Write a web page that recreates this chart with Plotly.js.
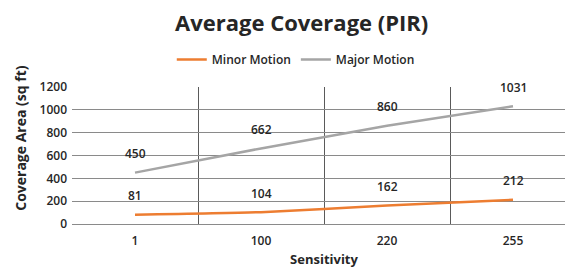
<!DOCTYPE html>
<html>
<head>
<meta charset="utf-8">
<script src="https://cdn.plot.ly/plotly-3.0.1.min.js"></script>
<style>
html,body{margin:0;padding:0;overflow:hidden;background:#fff;width:565px;height:269px;}
#chart{width:578px;height:269px;}
</style>
</head>
<body>
<div id="chart"></div>
<script>
var categories = ["1", "100", "220", "255"];
var minorMotion = [81, 104, 162, 212];
var majorMotion = [450, 662, 860, 1031];
var yTicks = [0, 200, 400, 600, 800, 1000, 1200];

var FONT = "Open Sans, sans-serif";
var TXT = "#262626";

var traces = [
  {x: categories, y: minorMotion, name: "Minor Motion", type: "scatter", mode: "lines",
   line: {color: "#ED7D31", width: 2.5, shape: "spline", smoothing: 0.5}},
  {x: categories, y: majorMotion, name: "Major Motion", type: "scatter", mode: "lines",
   line: {color: "#A5A5A5", width: 2.5}}
];

var annotations = [];
[minorMotion, majorMotion].forEach(function (series) {
  series.forEach(function (v, i) {
    annotations.push({x: i, y: v, xref: "x", yref: "y", text: String(v),
      showarrow: false, yshift: 19, font: {family: FONT, size: 12, color: TXT, weight: 600}});
  });
});
annotations.push({text: "Coverage Area (sq ft)", xref: "paper", yref: "paper", x: -0.101, y: 0.63,
  xanchor: "center", yanchor: "middle", textangle: -90, showarrow: false,
  font: {family: FONT, size: 14, color: TXT, weight: 700}});

var layout = {
  width: 578, height: 269,
  margin: {l: 72, r: 2, t: 87, b: 45},
  paper_bgcolor: "#fff", plot_bgcolor: "#fff",
  title: {text: "Average Coverage (PIR)", x: 0.522, xanchor: "center", y: 0.915, yanchor: "middle",
    font: {family: FONT, size: 22, color: TXT, weight: 700}},
  showlegend: true,
  legend: {orientation: "h", x: 0.444, xanchor: "center", y: 1.2, yanchor: "middle",
    font: {family: FONT, size: 12, color: TXT, weight: 600}, itemwidth: 30, tracegroupgap: 0},
  xaxis: {type: "category", tickson: "boundaries", showgrid: true, gridcolor: "#5a5a5a", gridwidth: 1,
    ticks: "", showline: false, zeroline: false, range: [-0.5, 3.5], ticklabelstandoff: 8,
    tickfont: {family: FONT, size: 12, color: TXT, weight: 600},
    title: {text: "Sensitivity", standoff: 6, font: {family: FONT, size: 13, color: TXT, weight: 700}}},
  yaxis: {range: [0, 1200], tickvals: yTicks, ticktext: yTicks.map(String), showgrid: true,
    gridcolor: "#8a8a8a", gridwidth: 1, zeroline: true, zerolinecolor: "#8a8a8a", zerolinewidth: 1,
    ticks: "", showline: false, ticklabelstandoff: 4,
    tickfont: {family: FONT, size: 12, color: TXT, weight: 600}},
  annotations: annotations
};

Plotly.newPlot("chart", traces, layout, {displayModeBar: false, staticPlot: true});
</script>
</body>
</html>
